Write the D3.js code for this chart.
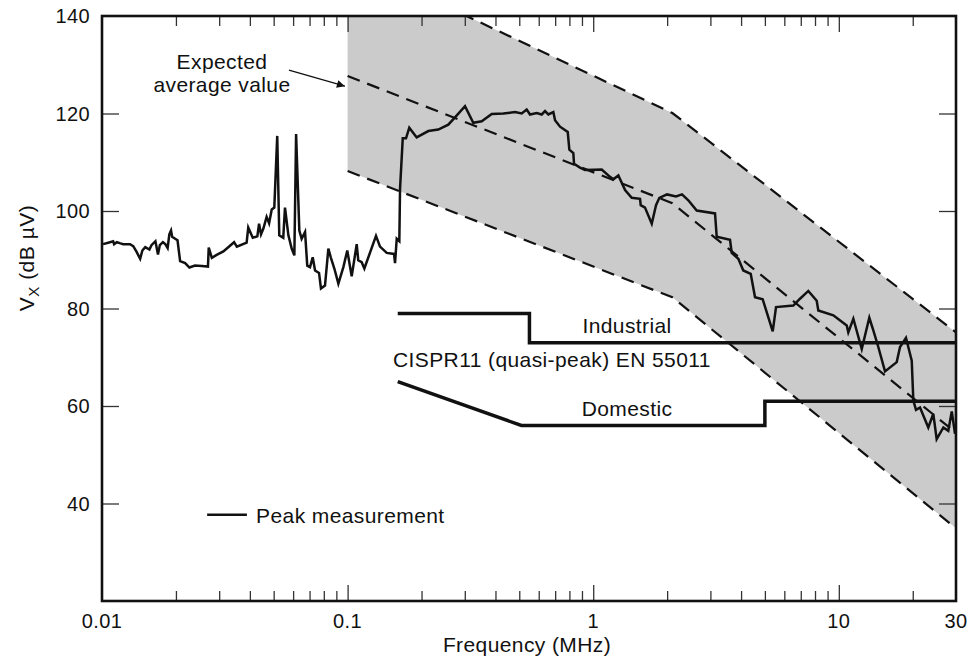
<!DOCTYPE html>
<html>
<head>
<meta charset="utf-8">
<script src="https://cdn.jsdelivr.net/npm/d3@7"></script>
<style>
  body { margin: 0; background: #fff; }
  text { font-family: "Liberation Sans", Arial, Helvetica, sans-serif; fill: #111; }
</style>
</head>
<body>
<div id="chart"></div>
<script>
// peak measurement trace (MHz, dB µV)
var peakFreq = [0.0101, 0.0106, 0.0111, 0.0112, 0.0115, 0.0118, 0.0122, 0.0130, 0.0134, 0.0138,
    0.0143, 0.0146, 0.0150, 0.0156, 0.0159, 0.0165, 0.0169, 0.0172, 0.0177, 0.0181,
    0.0185, 0.0188, 0.0191, 0.0193, 0.0200, 0.0203, 0.0208, 0.0218, 0.0227, 0.0239,
    0.0255, 0.0270, 0.0272, 0.0280, 0.0293, 0.0312, 0.0345, 0.0354, 0.0388, 0.0394,
    0.0411, 0.0429, 0.0436, 0.0444, 0.0454, 0.0468, 0.0479, 0.0491, 0.0503, 0.0517,
    0.0527, 0.0547, 0.0556, 0.0574, 0.0592, 0.0607, 0.0617, 0.0636, 0.0650, 0.0671,
    0.0685, 0.0703, 0.0721, 0.0737, 0.0765, 0.0779, 0.0809, 0.0835, 0.0854, 0.0883,
    0.0917, 0.0961, 0.0997, 0.1039, 0.1089, 0.1105, 0.1141, 0.1170, 0.1305, 0.1355,
    0.1443, 0.1545, 0.1560, 0.1585, 0.1624, 0.1635, 0.1677, 0.1729, 0.1783, 0.1911,
    0.2131, 0.2340, 0.2570, 0.2737, 0.3006, 0.3249, 0.3516, 0.3862, 0.4305, 0.4804,
    0.5115, 0.5360, 0.5529, 0.5889, 0.6171, 0.6365, 0.6566, 0.6881, 0.6992, 0.7326,
    0.7876, 0.7995, 0.8299, 0.8353, 0.8836, 0.9259, 1.083, 1.152, 1.207, 1.266,
    1.348, 1.435, 1.551, 1.561, 1.625, 1.731, 1.802, 1.859, 1.998, 2.173,
    2.299, 2.439, 2.639, 3.133, 3.183, 3.606, 3.664, 3.898, 4.084, 4.378,
    4.559, 4.898, 5.381, 5.551, 6.528, 6.950, 7.514, 8.128, 8.251, 9.501,
    10.77, 10.93, 11.46, 12.40, 12.79, 13.31, 13.82, 14.48, 15.42, 17.21,
    17.75, 18.77, 19.81, 20.11, 20.62, 21.41, 23.14, 24.25, 25.03, 26.65,
    27.91, 28.83, 29.73];
var peakDb = [93.2, 93.5, 93.8, 93.2, 93.6, 93.4, 93.2, 93.2, 92.8, 91.7,
    90.2, 91.9, 92.6, 92.1, 93.0, 93.8, 91.1, 93.0, 93.6, 93.2,
    92.4, 95.2, 96.0, 94.7, 94.2, 94.0, 89.7, 89.3, 88.4, 88.8,
    88.7, 88.6, 92.5, 90.4, 91.0, 91.7, 93.6, 92.7, 93.5, 96.6,
    94.5, 94.8, 97.4, 95.2, 96.4, 98.8, 97.5, 100.3, 100.7, 115.4,
    95.0, 94.5, 100.7, 95.0, 92.3, 90.9, 115.8, 96.0, 94.3, 95.7,
    88.8, 88.5, 90.5, 87.8, 87.3, 84.1, 84.7, 92.3, 90.5, 88.2,
    85.1, 88.5, 91.9, 86.6, 93.2, 89.9, 89.5, 88.2, 94.9, 92.7,
    91.4, 91.2, 89.3, 94.3, 93.8, 104.6, 114.9, 114.9, 117.1, 115.1,
    116.4, 116.7, 117.7, 119.2, 121.5, 118.1, 118.4, 119.9, 120.0, 120.3,
    120.0, 120.8, 119.8, 120.1, 119.8, 120.5, 119.8, 120.3, 118.6, 117.3,
    116.2, 112.6, 111.9, 109.7, 108.9, 108.4, 108.5, 107.3, 106.5, 107.3,
    104.3, 102.7, 102.5, 101.2, 100.7, 97.4, 101.2, 102.7, 103.4, 103.0,
    103.4, 102.2, 100.1, 99.5, 94.7, 94.1, 91.4, 90.2, 87.8, 87.1,
    82.3, 81.9, 75.3, 80.3, 80.6, 82.0, 83.6, 81.6, 79.6, 78.6,
    76.5, 75.1, 77.9, 71.7, 74.5, 78.1, 75.5, 72.1, 67.1, 69.0,
    72.1, 74.0, 69.3, 61.1, 59.2, 59.7, 55.6, 58.4, 53.2, 55.6,
    54.9, 58.9, 54.3];

// CISPR 11 quasi-peak limits
var industrialFreq = [0.16, 0.55, 0.55, 30];
var industrialDb = [79, 79, 73, 73];
var domesticFreq = [0.16, 0.51, 5, 5, 30];
var domesticDb = [65, 56, 56, 61, 61];

// expected band (upper / average / lower)
var bandFreq = [0.1, 2.1, 30];
var upperDb = [151.5, 120.1, 75.1];
var averageDb = [127.7, 101.6, 54.5];
var lowerDb = [108.2, 82.3, 34.9];

var xTickLabels = [0.01, 0.1, 1, 10, 30];
var yTickLabels = [40, 60, 80, 100, 120, 140];

var width = 969, height = 657;
var plotLeft = 102, plotRight = 956, plotTop = 16, plotBottom = 601;

var svg = d3.select("#chart").append("svg")
    .attr("width", width)
    .attr("height", height);

var x = d3.scaleLog().domain([0.01, 30]).range([plotLeft, plotRight]);
var y = d3.scaleLinear().domain([20, 140]).range([plotBottom, plotTop]);

svg.append("clipPath").attr("id", "plotclip")
    .append("rect")
    .attr("x", plotLeft).attr("y", plotTop)
    .attr("width", plotRight - plotLeft).attr("height", plotBottom - plotTop);

var plot = svg.append("g").attr("clip-path", "url(#plotclip)");

var band = bandFreq.map((f, i) => ({ f: f, hi: upperDb[i], mid: averageDb[i], lo: lowerDb[i] }));

// shaded band
plot.append("path")
    .datum(band)
    .attr("fill", "#cbcbcb")
    .attr("stroke", "none")
    .attr("d", d3.area()
        .x(d => x(d.f))
        .y0(d => y(d.lo))
        .y1(d => y(d.hi)));

["hi", "mid", "lo"].forEach(function (key) {
    plot.append("path")
        .datum(band)
        .attr("fill", "none")
        .attr("stroke", "#111")
        .attr("stroke-width", 2.2)
        .attr("stroke-dasharray", "13,8")
        .attr("d", d3.line().x(d => x(d.f)).y(d => y(d[key])));
});

// limit lines
var freqLine = d3.line().x(d => x(d[0])).y(d => y(d[1]));
plot.append("path")
    .datum(d3.zip(industrialFreq, industrialDb))
    .attr("fill", "none")
    .attr("stroke", "#111")
    .attr("stroke-width", 3.5)
    .attr("d", freqLine);
plot.append("path")
    .datum(d3.zip(domesticFreq, domesticDb))
    .attr("fill", "none")
    .attr("stroke", "#111")
    .attr("stroke-width", 3.5)
    .attr("d", freqLine);

// peak measurement
plot.append("path")
    .datum(d3.zip(peakFreq, peakDb))
    .attr("fill", "none")
    .attr("stroke", "#111")
    .attr("stroke-width", 2.5)
    .attr("d", freqLine);

// ticks, all pointing inward
var minorTicks = [];
[0.01, 0.1, 1].forEach(function (d) {
    for (var k = 2; k <= 9; k++) minorTicks.push(d * k);
});
minorTicks.push(20);
var majorTicks = [0.1, 1, 10];
var yTicks = [40, 60, 80, 100, 120];

function styleTicks(g) {
    g.select(".domain").remove();
    g.selectAll("line").attr("stroke", "#333").attr("stroke-width", 1.3);
}

svg.append("g").attr("transform", `translate(0,${plotBottom})`)
    .call(d3.axisBottom(x).tickValues(minorTicks).tickSize(-10).tickFormat(""))
    .call(styleTicks);
svg.append("g").attr("transform", `translate(0,${plotBottom})`)
    .call(d3.axisBottom(x).tickValues(majorTicks).tickSize(-16).tickFormat(""))
    .call(styleTicks);
svg.append("g").attr("transform", `translate(0,${plotTop})`)
    .call(d3.axisTop(x).tickValues(minorTicks).tickSize(-10).tickFormat(""))
    .call(styleTicks);
svg.append("g").attr("transform", `translate(0,${plotTop})`)
    .call(d3.axisTop(x).tickValues(majorTicks).tickSize(-16).tickFormat(""))
    .call(styleTicks);
svg.append("g").attr("transform", `translate(${plotLeft},0)`)
    .call(d3.axisLeft(y).tickValues(yTicks).tickSize(-17).tickFormat(""))
    .call(styleTicks);
svg.append("g").attr("transform", `translate(${plotRight},0)`)
    .call(d3.axisRight(y).tickValues(yTicks).tickSize(-17).tickFormat(""))
    .call(styleTicks);

// frame
svg.append("rect")
    .attr("x", plotLeft).attr("y", plotTop)
    .attr("width", plotRight - plotLeft).attr("height", plotBottom - plotTop)
    .attr("fill", "none")
    .attr("stroke", "#111")
    .attr("stroke-width", 2.6);

// tick labels
svg.selectAll(".xlab")
    .data(xTickLabels)
    .join("text")
    .attr("class", "xlab")
    .attr("x", d => x(d))
    .attr("y", 628)
    .attr("text-anchor", "middle")
    .attr("font-size", 20)
    .attr("letter-spacing", "0.4px")
    .text(d => d);

svg.selectAll(".ylab")
    .data(yTickLabels)
    .join("text")
    .attr("class", "ylab")
    .attr("x", 90)
    .attr("y", d => y(d))
    .attr("dy", "0.36em")
    .attr("text-anchor", "end")
    .attr("font-size", 20)
    .attr("letter-spacing", "0.4px")
    .text(d => d);

// axis titles
svg.append("text")
    .attr("x", (plotLeft + plotRight) / 2 - 2)
    .attr("y", 652)
    .attr("text-anchor", "middle")
    .attr("font-size", 21)
    .attr("letter-spacing", "0.4px")
    .text("Frequency (MHz)");

var ylab = svg.append("text")
    .attr("transform", "translate(34," + 258 + ") rotate(-90)")
    .attr("text-anchor", "middle")
    .attr("font-size", 21)
    .attr("letter-spacing", "0.5px");
ylab.append("tspan").text("V");
ylab.append("tspan").attr("font-size", 15).attr("dy", 5).text("X");
ylab.append("tspan").attr("dy", -5).text(" (dB µV)");

// annotations
function note(txt, f, v, anchor) {
    return svg.append("text")
        .attr("x", x(f))
        .attr("y", y(v))
        .attr("text-anchor", anchor || "middle")
        .attr("font-size", 21)
        .attr("letter-spacing", "0.4px")
        .text(txt);
}
note("Expected", 0.0308, 129.1);
note("average value", 0.0308, 124.4);
note("Industrial", 1.373, 74.9);
note("CISPR11 (quasi-peak) EN 55011", 0.679, 67.9);
note("Domestic", 1.373, 58.0);
note("Peak measurement", 0.0424, 36.0, "start");

// legend sample line
svg.append("line")
    .attr("x1", x(0.0268)).attr("x2", x(0.0389))
    .attr("y1", y(37.7)).attr("y2", y(37.7))
    .attr("stroke", "#111")
    .attr("stroke-width", 2.5);

// arrow to the average line
svg.append("defs").append("marker")
    .attr("id", "arrowhead")
    .attr("viewBox", "0 0 10 10")
    .attr("refX", 10).attr("refY", 5)
    .attr("markerWidth", 12).attr("markerHeight", 8)
    .attr("markerUnits", "userSpaceOnUse")
    .attr("orient", "auto")
    .append("path")
    .attr("d", "M0,0 L10,5 L0,10 z")
    .attr("fill", "#111");

svg.append("line")
    .attr("x1", x(0.0577)).attr("y1", y(128.9))
    .attr("x2", x(0.0975)).attr("y2", y(125.6))
    .attr("stroke", "#111")
    .attr("stroke-width", 1.2)
    .attr("marker-end", "url(#arrowhead)");
</script>
</body>
</html>
